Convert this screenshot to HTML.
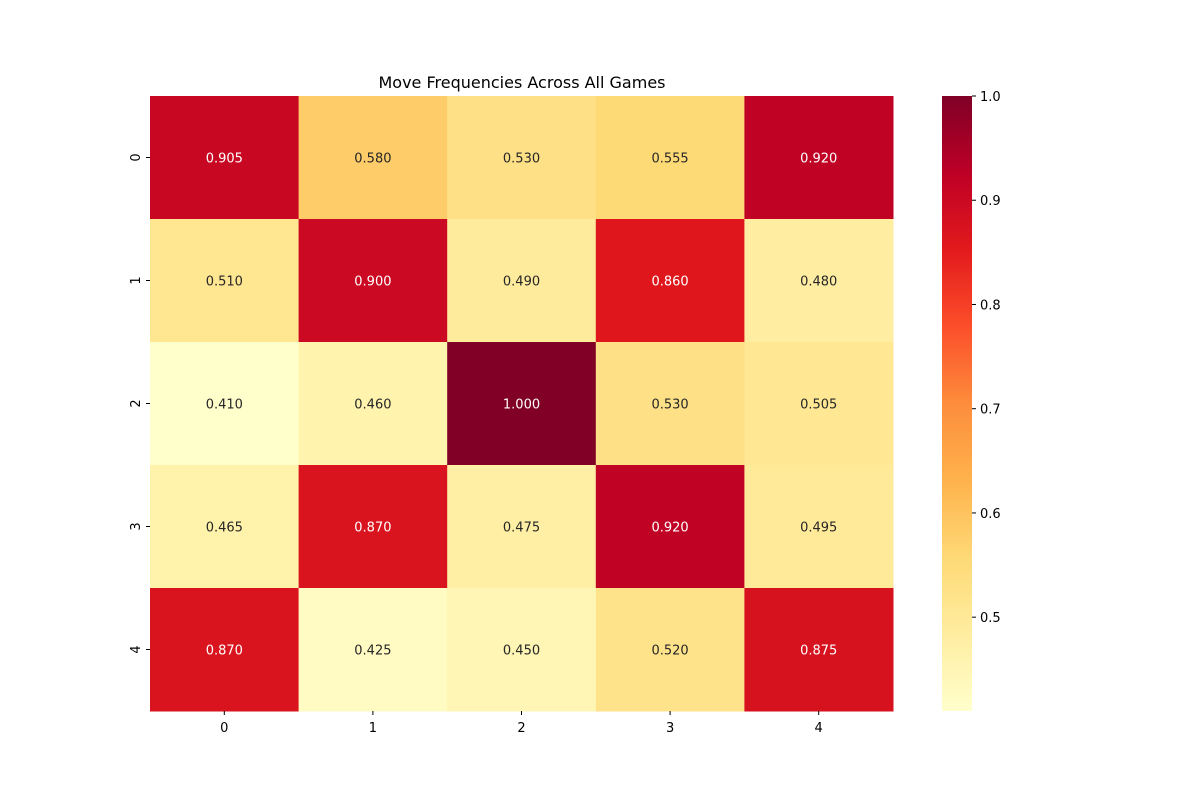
<!DOCTYPE html>
<html><head><meta charset="utf-8"><style>
body{margin:0;background:#fff;font-family:"Liberation Sans","DejaVu Sans",sans-serif}
</style></head><body>
<svg id="chart" width="1200" height="800" xmlns="http://www.w3.org/2000/svg" font-family="DejaVu Sans, Liberation Sans, sans-serif">
<rect width="1200" height="800" fill="#fff"/>
<text x="522" y="88" text-anchor="middle" font-size="16">Move Frequencies Across All Games</text>
<g id="cells"></g>
<g id="axes"></g>
<defs><linearGradient id="cg" x1="0" y1="1" x2="0" y2="0"></linearGradient></defs>
<rect x="942" y="96" width="30" height="615" fill="url(#cg)"/>
<g id="cbticks"></g>
</svg>
<script>
const rowLabels=["0","1","2","3","4"];
const colLabels=["0","1","2","3","4"];
const values=[
[0.905,0.580,0.530,0.555,0.920],
[0.510,0.900,0.490,0.860,0.480],
[0.410,0.460,1.000,0.530,0.505],
[0.465,0.870,0.475,0.920,0.495],
[0.870,0.425,0.450,0.520,0.875]];
const cbTicks=[0.5,0.6,0.7,0.8,0.9,1.0];
const vmin=0.41,vmax=1.0;
const X0=150,X1=893,Y0=96,Y1=711;
const stops=["#ffffcc","#ffeda0","#fed976","#feb24c","#fd8d3c","#fc4e2a","#e31a1c","#bd0026","#800026"];
const NS="http://www.w3.org/2000/svg";
function hex(h){return [1,3,5].map(i=>parseInt(h.substr(i,2),16));}
function cmap(v){let t=(v-vmin)/(vmax-vmin);t=Math.max(0,Math.min(1,t))*(stops.length-1);
let i=Math.min(Math.floor(t),stops.length-2),f=t-i;const a=hex(stops[i]),b=hex(stops[i+1]);
return a.map((c,k)=>Math.round(c+(b[k]-c)*f));}
const cw=(X1-X0)/colLabels.length,ch=(Y1-Y0)/rowLabels.length;
const cells=document.getElementById('cells'),axes=document.getElementById('axes');
function mk(tag,attrs,parent){const e=document.createElementNS(NS,tag);for(const k in attrs)e.setAttribute(k,attrs[k]);parent.appendChild(e);return e;}
values.forEach((row,r)=>row.forEach((v,c)=>{
const col=cmap(v);
const rc=mk('rect',{x:X0+c*cw,y:Y0+r*ch,width:cw+0.5,height:ch+0.5,fill:`rgb(${col})`},cells);


const lum=(0.299*col[0]+0.587*col[1]+0.114*col[2])/255;
const t=mk('text',{x:X0+(c+0.5)*cw,y:Y0+(r+0.5)*ch+5,'text-anchor':'middle','font-size':13,fill:lum>0.408?'#262626':'#fff'},cells);
t.textContent=v.toFixed(3);


}));
colLabels.forEach((l,c)=>{const x=X0+(c+0.5)*cw;
mk('line',{x1:x,x2:x,y1:Y1,y2:Y1+4,stroke:'#000'},axes);
const t=mk('text',{x:x,y:Y1+21,'text-anchor':'middle','font-size':13},axes);t.textContent=l;

});
rowLabels.forEach((l,r)=>{const y=Y0+(r+0.5)*ch;
mk('line',{x1:X0-4,x2:X0,y1:y,y2:y,stroke:'#000'},axes);
const t=mk('text',{x:0,y:0,'text-anchor':'middle','font-size':13,transform:`translate(${X0-10},${y}) rotate(-90)`},axes);t.textContent=l;

});
const g=document.getElementById('cg');
for(let i=0;i<=40;i++){const v=vmin+(vmax-vmin)*i/40;mk('stop',{offset:(i/40),'stop-color':`rgb(${cmap(v)})`},g);}
const cb=document.getElementById('cbticks');
cbTicks.forEach(v=>{const y=Y1-(v-vmin)/(vmax-vmin)*(Y1-Y0);
mk('line',{x1:972,x2:976,y1:y,y2:y,stroke:'#000'},cb);
const t=mk('text',{x:980,y:y+5,'font-size':13},cb);t.textContent=v.toFixed(1);

});
</script>
</body></html>
